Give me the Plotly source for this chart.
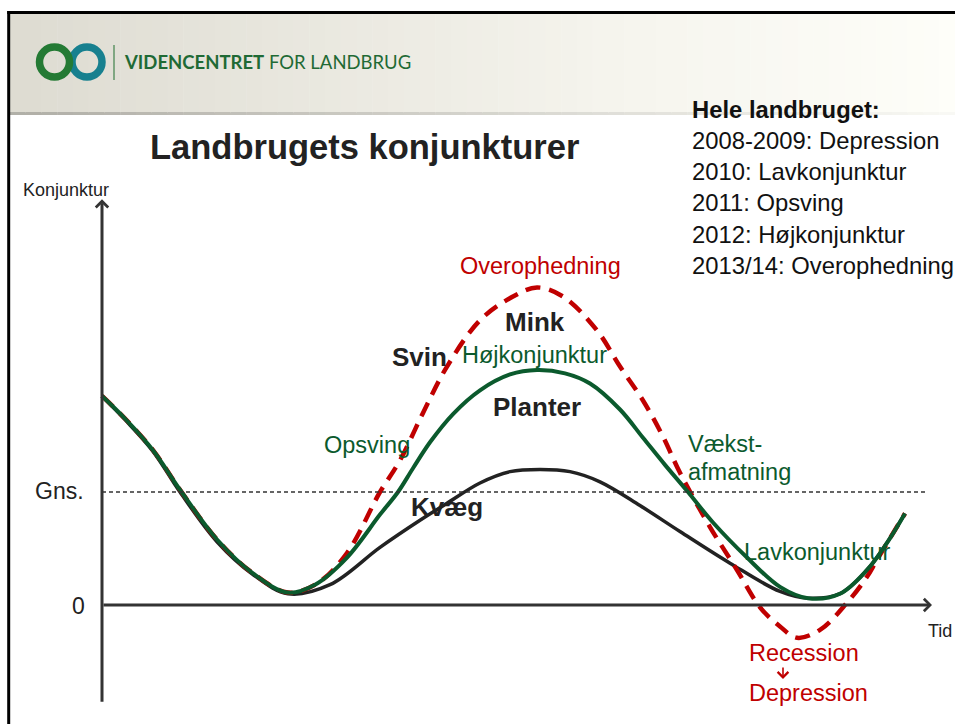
import plotly.graph_objects as go

# ---------------- data (time units; konjunktur index where Gns. = 1) ----------------
green_x = [0.00, 0.23, 0.51, 0.78, 1.15, 1.51, 1.86, 2.13, 2.45, 2.78, 2.96, 3.11, 3.28, 3.51,
           3.78, 4.08, 4.35, 4.63, 4.88, 5.18, 5.41, 5.63, 5.86, 6.11, 6.45, 6.78, 7.06, 7.38,
           7.65, 7.85, 8.03]
green_y = [1.85, 1.65, 1.37, 1.02, 0.58, 0.28, 0.11, 0.18, 0.42, 0.80, 1.00, 1.21, 1.44, 1.69,
           1.90, 2.04, 2.08, 2.05, 1.96, 1.73, 1.48, 1.24, 1.00, 0.73, 0.42, 0.16, 0.06, 0.10,
           0.31, 0.55, 0.81]

black_x = [0.00, 0.23, 0.51, 0.78, 1.15, 1.51, 1.86, 2.28, 2.78, 3.18, 3.45, 3.78, 4.08, 4.38,
           4.68, 4.98, 5.38, 5.78, 6.28, 6.78, 7.06, 7.38, 7.65, 7.85, 8.03]
black_y = [1.85, 1.64, 1.36, 1.00, 0.56, 0.27, 0.10, 0.18, 0.51, 0.75, 0.90, 1.08, 1.18, 1.20,
           1.18, 1.09, 0.88, 0.65, 0.37, 0.12, 0.06, 0.10, 0.31, 0.55, 0.81]

red_x = [0.00, 0.23, 0.51, 0.78, 1.15, 1.51, 1.86, 2.15, 2.45, 2.78, 2.98, 3.21, 3.45, 3.78,
         4.11, 4.35, 4.61, 4.95, 5.18, 5.41, 5.61, 5.78, 6.08, 6.35, 6.58, 6.78, 6.95, 7.18,
         7.45, 7.65, 7.75, 8.03]
red_y = [1.85, 1.65, 1.37, 1.02, 0.58, 0.28, 0.11, 0.19, 0.46, 1.00, 1.28, 1.70, 2.11, 2.52,
         2.73, 2.81, 2.73, 2.43, 2.11, 1.81, 1.49, 1.17, 0.69, 0.31, -0.02, -0.19, -0.29, -0.22,
         0.02, 0.25, 0.40, 0.81]

gns_level = 1.0
x_axis_end = 8.30
y_axis_top = 3.59
y_axis_bottom = -0.87
gns_end = 8.25

title_text = "Landbrugets konjunkturer"
summary_title = "Hele landbruget:"
summary_lines = ["2008-2009: Depression", "2010: Lavkonjunktur", "2011: Opsving",
                 "2012: Højkonjunktur", "2013/14: Overophedning"]

# ---------------- styling ----------------
W, H = 955, 724
GREEN = "#0b5a2d"
RED = "#c00000"
DARK = "#222222"
AXIS = "#333333"
FONT = "Liberation Sans, Arial, sans-serif"


def px(xp):
    return xp / W


def py(yp):
    return 1 - yp / H


fig = go.Figure()

fig.add_trace(go.Scatter(x=black_x, y=black_y, mode="lines", line=dict(color=DARK, width=3.5, shape="spline"),
                         hoverinfo="skip", showlegend=False))
fig.add_trace(go.Scatter(x=red_x, y=red_y, mode="lines",
                         line=dict(color=RED, width=4.5, dash="15px,9px", shape="spline"),
                         hoverinfo="skip", showlegend=False))
fig.add_trace(go.Scatter(x=green_x, y=green_y, mode="lines", line=dict(color=GREEN, width=4, shape="spline"),
                         hoverinfo="skip", showlegend=False))

shapes = []
# header gradient band
n = 60
c_left = (222, 220, 210)
c_mid = (246, 245, 238)
c_right = (254, 254, 249)
for i in range(n):
    t = i / (n - 1)
    if t < 0.65:
        u = t / 0.65
        c = tuple(int(c_left[k] + (c_mid[k] - c_left[k]) * u) for k in range(3))
    else:
        u = (t - 0.65) / 0.35
        c = tuple(int(c_mid[k] + (c_right[k] - c_mid[k]) * u) for k in range(3))
    x0 = 10 + (W - 10) * i / n
    x1 = 10 + (W - 10) * (i + 1) / n + 0.5
    shapes.append(dict(type="rect", xref="paper", yref="paper", x0=px(x0), x1=px(x1), y0=py(113), y1=py(14),
                       fillcolor="rgb(%d,%d,%d)" % c, line=dict(width=0), layer="below"))
    s = tuple(int(v * (0.80 + 0.18 * t)) for v in c)
    shapes.append(dict(type="rect", xref="paper", yref="paper", x0=px(x0), x1=px(x1), y0=py(115), y1=py(112),
                       fillcolor="rgb(%d,%d,%d)" % s, line=dict(width=0), layer="below"))

# slide border
shapes.append(dict(type="line", xref="paper", yref="paper", x0=px(8.7), x1=px(8.7), y0=py(724), y1=py(11),
                   line=dict(color="#000000", width=3)))
shapes.append(dict(type="line", xref="paper", yref="paper", x0=px(7.2), x1=px(955), y0=py(12.5), y1=py(12.5),
                   line=dict(color="#000000", width=3)))

# logo rings
shapes.append(dict(type="circle", xref="paper", yref="paper", x0=px(72), x1=px(102), y0=py(77), y1=py(47),
                   line=dict(color="#17808f", width=7.5)))
shapes.append(dict(type="circle", xref="paper", yref="paper", x0=px(39.5), x1=px(69.5), y0=py(77), y1=py(47),
                   line=dict(color="#247a34", width=7.5)))
shapes.append(dict(type="line", xref="paper", yref="paper", x0=px(114), x1=px(114), y0=py(80), y1=py(45),
                   line=dict(color="#5f9466", width=1.5)))

# Gns. dashed reference line
shapes.append(dict(type="line", xref="x", yref="y", x0=0, x1=gns_end, y0=gns_level, y1=gns_level,
                   line=dict(color=AXIS, width=1.3, dash="4px,3px")))

annotations = []
# axes with arrows
annotations.append(dict(x=0, y=y_axis_top, ax=0, ay=y_axis_bottom, xref="x", yref="y", axref="x", ayref="y",
                        text="", showarrow=True, arrowhead=4, arrowsize=0.8, arrowwidth=3, arrowcolor=AXIS,
                        standoff=0, startstandoff=0))
annotations.append(dict(x=x_axis_end, y=0, ax=0, ay=0, xref="x", yref="y", axref="x", ayref="y",
                        text="", showarrow=True, arrowhead=4, arrowsize=0.8, arrowwidth=3, arrowcolor=AXIS,
                        standoff=0, startstandoff=0))


def label(text, xp, yp, size, color, xanchor="center", bold=False, family=FONT):
    t = "<b>%s</b>" % text if bold else text
    annotations.append(dict(x=px(xp), y=py(yp), xref="paper", yref="paper", text=t, showarrow=False,
                            xanchor=xanchor, yanchor="middle",
                            font=dict(family=family, size=size, color=color)))


# logo text
label("<b>VIDENCENTRET</b> FOR LANDBRUG", 122, 62, 18.5, "#1f6a35", xanchor="left",
      family="Lato, Open Sans, sans-serif")

# titles
label(title_text, 364, 147, 34.5, DARK, bold=True)
label(summary_title, 690, 109, 23.8, "#111111", xanchor="left", bold=True)
for i, line in enumerate(summary_lines):
    label(line, 690, 140.5 + 31.2 * i, 23.8, "#111111", xanchor="left")

# axis labels
label("Konjunktur", 21, 190, 18, "#222222", xanchor="left")
label("Gns.", 86, 491, 23, "#222222", xanchor="right")
label("0", 87, 606, 23, "#222222", xanchor="right")
label("Tid", 926, 631, 18, "#222222", xanchor="left")

# phase labels
label("Overophedning", 540, 266, 23.5, RED)
label("Mink", 535, 322, 26, DARK, bold=True)
label("Svin", 419, 357, 26, DARK, bold=True)
label("Højkonjunktur", 534, 355, 23.5, GREEN)
label("Planter", 537, 407, 26, DARK, bold=True)
label("Opsving", 367, 445, 23.5, GREEN)
label("Vækst-", 686, 444, 23.5, GREEN, xanchor="left")
label("afmatning", 686, 472, 23.5, GREEN, xanchor="left")
label("Kvæg", 447, 507, 26, DARK, bold=True)
label("Lavkonjunktur", 817, 552, 23.5, GREEN)
label("Recession", 747, 653, 23.5, RED, xanchor="left")
label("Depression", 747, 693, 23.5, RED, xanchor="left")
annotations.append(dict(x=px(783), y=py(679), ax=0, ay=-13, xref="paper", yref="paper", text="",
                        showarrow=True, arrowhead=4, arrowsize=1.3, arrowwidth=1.6, arrowcolor=RED,
                        standoff=0, startstandoff=0))

fig.update_layout(
    width=W, height=H, autosize=False,
    margin=dict(l=0, r=0, t=0, b=0, pad=0),
    paper_bgcolor="white", plot_bgcolor="white",
    xaxis=dict(range=[-1.02, 8.53], visible=False, fixedrange=True),
    yaxis=dict(range=[(605 - 724) / 113, 605 / 113], visible=False, fixedrange=True),
    shapes=shapes, annotations=annotations, showlegend=False,
)

fig.write_html("out.html", config={"displayModeBar": False},
               post_script="document.body.style.margin='0px';document.body.style.overflow='hidden';")
